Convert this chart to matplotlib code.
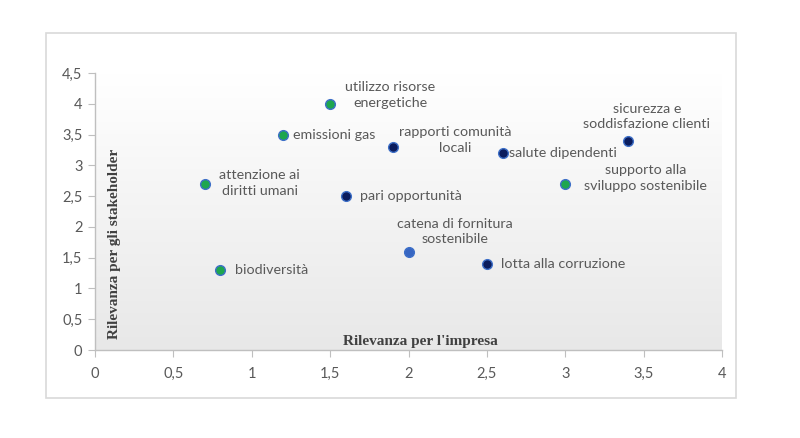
import matplotlib
matplotlib.use("Agg")
import matplotlib.pyplot as plt
import numpy as np
from matplotlib.patches import Rectangle
from matplotlib.ticker import FuncFormatter, MultipleLocator

labels = ["utilizzo risorse\nenergetiche", "emissioni gas", "rapporti comunità\nlocali",
          "salute dipendenti", "sicurezza e\nsoddisfazione clienti",
          "supporto alla\nsviluppo sostenibile", "attenzione ai\ndiritti umani",
          "pari opportunità", "catena di fornitura\nsostenibile",
          "lotta alla corruzione", "biodiversità"]
x_vals = [1.5, 1.2, 1.9, 2.6, 3.4, 3.0, 0.7, 1.6, 2.0, 2.5, 0.8]
y_vals = [4.0, 3.5, 3.3, 3.2, 3.4, 2.7, 2.7, 2.5, 1.6, 1.4, 1.3]
groups = ["env", "env", "soc", "soc", "soc", "env", "env", "soc", "sup", "soc", "env"]

colors = {"env": "#1ea64f", "soc": "#0b1d5e", "sup": "#3766c2"}
# label offsets in pixels (dx, dy, ha)
offsets = [(60, 9, "center"), (10, 0, "left"), (62, 7, "center"), (6, 0, "left"),
           (19, 24, "center"), (80, 6, "center"), (55, 1, "center"), (14, 0, "left"),
           (46, 20, "center"), (14, 0, "left"), (15, 0, "left")]

W, H = 800, 438
fig = plt.figure(figsize=(8, 4.38), dpi=100)
fig.patch.set_facecolor("white")

# outer border
fig.add_artist(Rectangle((46 / W, 1 - 398 / H), (736 - 46) / W, (398 - 33) / H,
                         transform=fig.transFigure, fill=False, edgecolor="#d9d9d9", lw=1.2))

ax = fig.add_axes([95 / W, 1 - 350 / H, (722 - 95) / W, (350 - 73) / H])
ax.set_xlim(0, 4)
ax.set_ylim(0, 4.5)

# gradient background
grad = np.linspace(0, 1, 256).reshape(-1, 1)
ax.imshow(grad, extent=[0, 4, 0, 4.5], aspect="auto", origin="upper",
          cmap=matplotlib.colors.LinearSegmentedColormap.from_list("g", ["#ffffff", "#e8e8e8"]),
          zorder=0)

for xi, yi, g in zip(x_vals, y_vals, groups):
    ax.plot(xi, yi, "o", ms=7, mfc=colors[g], mec="#3d6fc8", mew=1.0, zorder=3)

for lab, xi, yi, (dx, dy, ha) in zip(labels, x_vals, y_vals, offsets):
    ax.annotate(lab, (xi, yi), xytext=(dx * 72 / 100, dy * 72 / 100), textcoords="offset points",
                ha=ha, va="center", multialignment="center", fontsize=10.3, color="#595959",
                family="Lato", linespacing=1.35, zorder=4)

for s in ["top", "right"]:
    ax.spines[s].set_visible(False)
for s in ["left", "bottom"]:
    ax.spines[s].set_color("#bfbfbf")
    ax.spines[s].set_linewidth(1.0)

ax.xaxis.set_major_locator(MultipleLocator(0.5))
ax.yaxis.set_major_locator(MultipleLocator(0.5))
fmt = FuncFormatter(lambda v, p: ("%g" % v).replace(".", ","))
ax.xaxis.set_major_formatter(fmt)
ax.yaxis.set_major_formatter(fmt)
ax.tick_params(direction="out", length=5, color="#bfbfbf", labelcolor="#595959",
               labelsize=10.5, pad=4)
for t in ax.get_xticklabels() + ax.get_yticklabels():
    t.set_family("Lato")
ax.tick_params(axis="x", pad=7)

fig.text(420 / W, 1 - 342 / H, "Rilevanza per l'impresa", ha="center", va="center",
         family="Liberation Serif", fontweight="bold", fontsize=11, color="#404040")
fig.text(115 / W, 1 - 244 / H, "Rilevanza per gli stakeholder", ha="center", va="center",
         rotation=90, family="Liberation Serif", fontweight="bold", fontsize=11, color="#404040")

fig.savefig("out.png", dpi=100)
